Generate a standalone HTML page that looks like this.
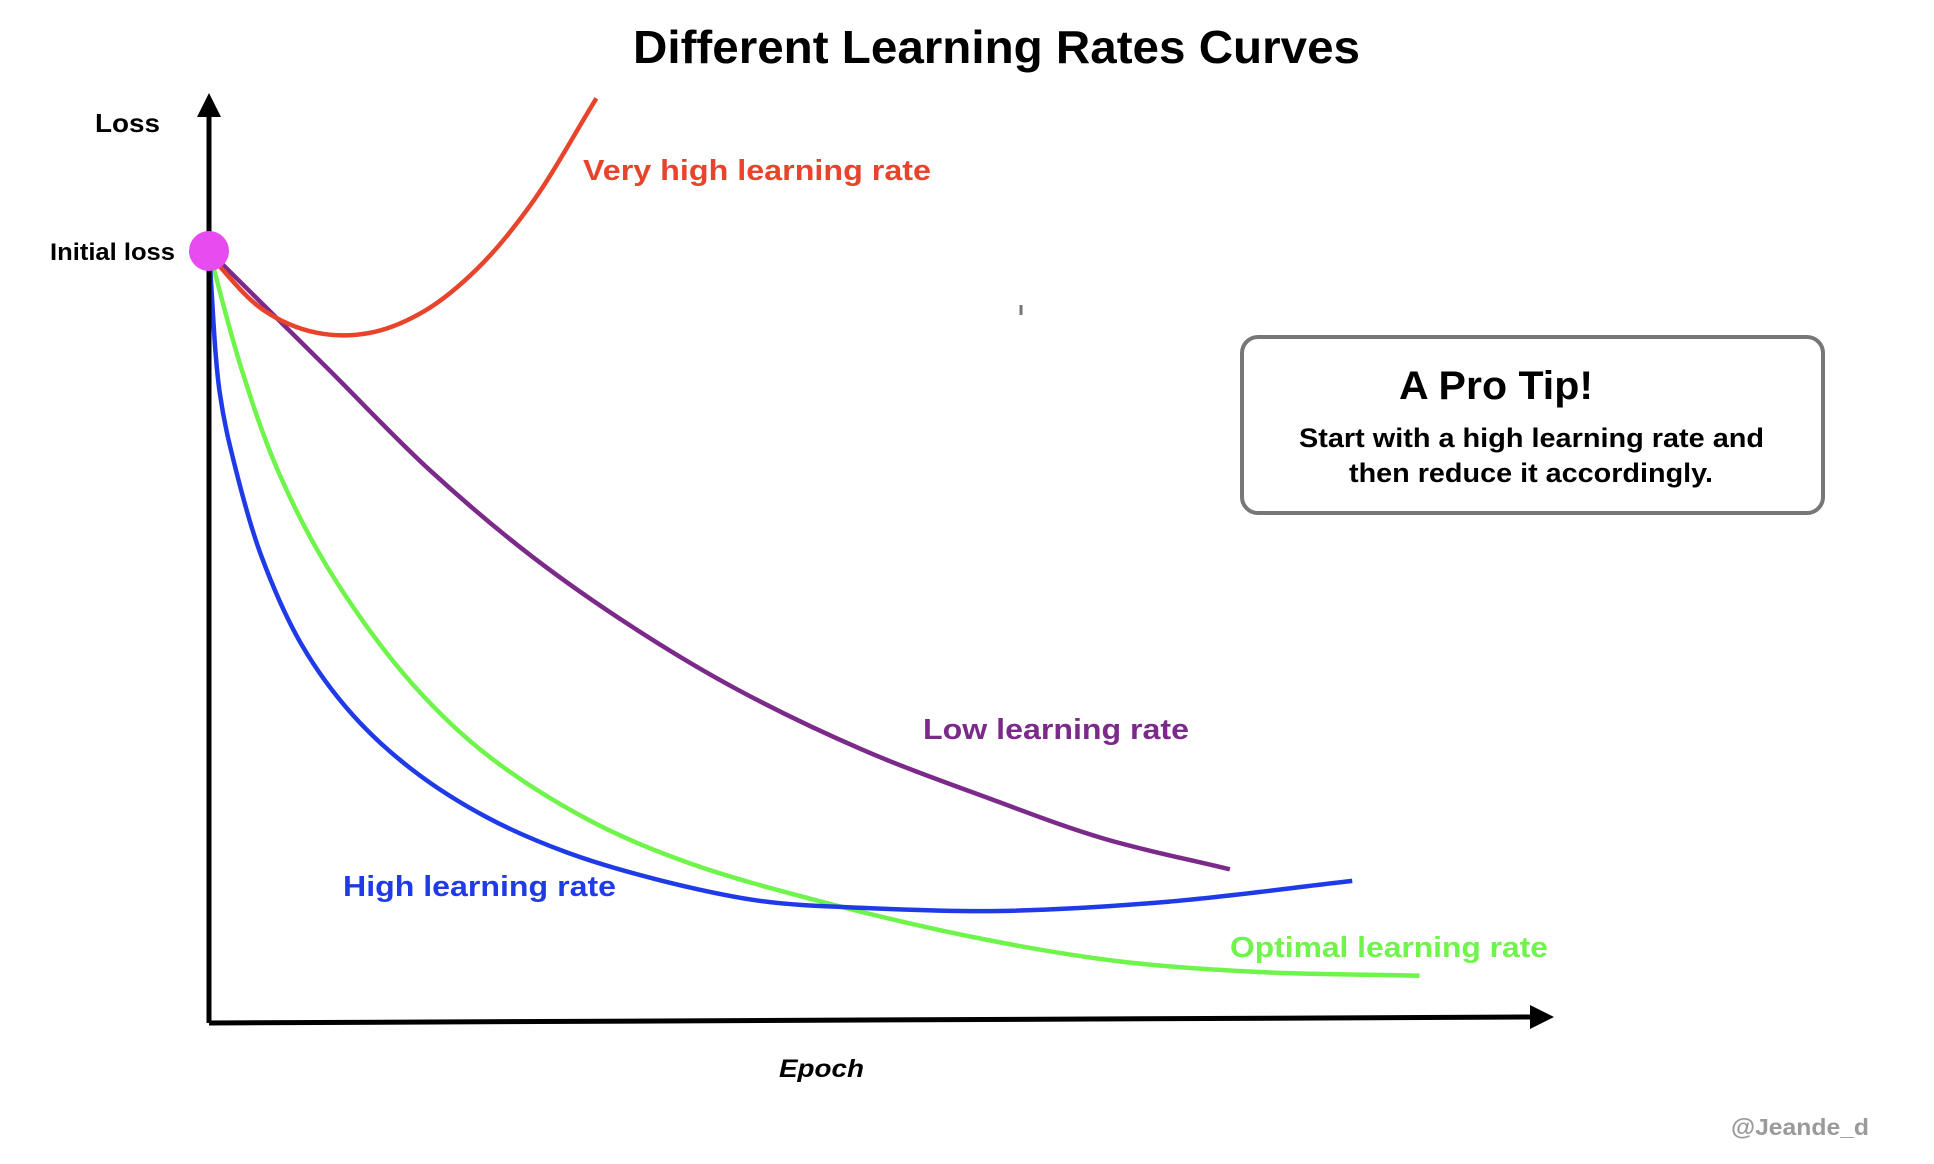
<!DOCTYPE html>
<html><head><meta charset="utf-8"><style>
html,body{margin:0;padding:0;background:#fff;}
svg{display:block;font-family:"Liberation Sans",Arial,sans-serif;font-weight:bold;}
</style></head><body>
<svg id="chart" width="1934" height="1164" viewBox="0 0 1934 1164" xmlns="http://www.w3.org/2000/svg">
<rect width="1934" height="1164" fill="#fff"/>
<text x="633" y="63" font-size="46" textLength="727" lengthAdjust="spacingAndGlyphs" fill="#000">Different Learning Rates Curves</text>
<g id="curves"></g>
<line x1="209" y1="1023" x2="209" y2="112" stroke="#000" stroke-width="5"/>
<polygon points="197,117 221,117 209,93" fill="#000"/>
<line x1="209" y1="1023" x2="1534" y2="1017" stroke="#000" stroke-width="5"/>
<polygon points="1530,1005 1530,1029 1554,1017" fill="#000"/>
<text x="95" y="132" font-size="26" textLength="65" lengthAdjust="spacingAndGlyphs" fill="#000">Loss</text>
<text x="50" y="260" font-size="24" textLength="125" lengthAdjust="spacingAndGlyphs" fill="#000">Initial loss</text>
<text x="779" y="1077" font-size="25" font-style="italic" textLength="85" lengthAdjust="spacingAndGlyphs" fill="#000">Epoch</text>
<circle cx="209" cy="251" r="20" fill="#e84cf0"/>
<line x1="1021" y1="305" x2="1021" y2="315" stroke="#777" stroke-width="3"/>
<text x="583" y="180" font-size="29" textLength="348" lengthAdjust="spacingAndGlyphs" fill="#e8442c">Very high learning rate</text>
<text x="923" y="739" font-size="29" textLength="266" lengthAdjust="spacingAndGlyphs" fill="#7b2a8a">Low learning rate</text>
<text x="343" y="896" font-size="29" textLength="273" lengthAdjust="spacingAndGlyphs" fill="#1f3be8">High learning rate</text>
<text x="1230" y="957" font-size="29" textLength="318" lengthAdjust="spacingAndGlyphs" fill="#6ef44a">Optimal learning rate</text>
<rect x="1242" y="337" width="581" height="176" rx="16" fill="#fff" stroke="#777" stroke-width="4"/>
<text x="1399" y="399" font-size="40" textLength="194" lengthAdjust="spacingAndGlyphs" fill="#000">A Pro Tip!</text>
<text x="1299" y="447" font-size="27" textLength="465" lengthAdjust="spacingAndGlyphs" fill="#000">Start with a high learning rate and</text>
<text x="1349" y="482" font-size="27" textLength="364" lengthAdjust="spacingAndGlyphs" fill="#000">then reduce it accordingly.</text>
<text x="1731" y="1135" font-size="23" textLength="138" lengthAdjust="spacingAndGlyphs" fill="#9a9a9a">@Jeande_d</text>
</svg>
<script>
const redEpochs = [0, 4, 8, 12, 16, 20, 24, 28.8];
const redLoss = [99.5, 92.4, 89.4, 89.4, 92.2, 97.8, 106.2, 119.8];
const purpleEpochs = [0, 8.8, 16.4, 24.0, 31.6, 39.2, 48.6, 58.0, 66.5, 75.9];
const purpleLoss = [100, 84.8, 71.6, 60.4, 51.1, 43.2, 35.3, 29.0, 23.8, 19.8];
const greenEpochs = [0, 2.4, 5.1, 8.8, 14.5, 20.2, 27.8, 35.4, 46.0, 58.0, 68.0, 77.9, 90.0];
const greenLoss = [100, 84.8, 71.6, 59.0, 45.1, 35.3, 26.6, 20.8, 15.4, 10.6, 7.8, 6.5, 6.0];
const blueEpochs = [0, 0.8, 2.0, 3.9, 6.9, 10.7, 15.2, 20.6, 26.6, 33.5, 41.0, 48.6, 58.8, 71.3, 85.0];
const blueLoss = [100, 81.6, 71.6, 60.4, 48.9, 39.8, 32.6, 26.6, 22.0, 18.4, 15.7, 14.8, 14.4, 15.6, 18.3];

function xScale(e){ return 209 + e * 13.45; }
function yScale(l){ return 1022 - l * 7.71; }
function smoothPath(pts){
  const dist = (a, b) => Math.pow(Math.hypot(b[0]-a[0], b[1]-a[1]), 0.5);
  let d = 'M' + pts[0][0].toFixed(2) + ',' + pts[0][1].toFixed(2);
  for (let i = 0; i < pts.length - 1; i++){
    const p0 = pts[i-1] || pts[i], p1 = pts[i], p2 = pts[i+1], p3 = pts[i+2] || pts[i+1];
    const d1 = dist(p0, p1), d2 = dist(p1, p2), d3 = dist(p2, p3);
    let b1, b2;
    if (d1 < 1e-6) b1 = [p1[0] + (p2[0]-p1[0])/3, p1[1] + (p2[1]-p1[1])/3];
    else b1 = [0,1].map(k => (d1*d1*p2[k] - d2*d2*p0[k] + (2*d1*d1 + 3*d1*d2 + d2*d2)*p1[k]) / (3*d1*(d1+d2)));
    if (d3 < 1e-6) b2 = [p2[0] - (p2[0]-p1[0])/3, p2[1] - (p2[1]-p1[1])/3];
    else b2 = [0,1].map(k => (d3*d3*p1[k] - d2*d2*p3[k] + (2*d3*d3 + 3*d3*d2 + d2*d2)*p2[k]) / (3*d3*(d3+d2)));
    d += ' C' + b1[0].toFixed(2) + ',' + b1[1].toFixed(2) + ' ' + b2[0].toFixed(2) + ',' + b2[1].toFixed(2) + ' ' + p2[0].toFixed(2) + ',' + p2[1].toFixed(2);
  }
  return d;
}
const g = document.getElementById('curves');
function draw(ex, ly, color, name){
  const pts = ex.map((e, i) => [xScale(e), yScale(ly[i])]);
  const p = document.createElementNS('http://www.w3.org/2000/svg', 'path');
  p.setAttribute('d', smoothPath(pts));
  p.setAttribute('fill', 'none');
  p.setAttribute('stroke', color);
  p.setAttribute('stroke-width', '4.5');
  p.setAttribute('stroke-linejoin', 'round');
  
  
  g.appendChild(p);
}
draw(purpleEpochs, purpleLoss, '#7b2a8a', 'low-lr-curve');
draw(greenEpochs, greenLoss, '#6ef44a', 'optimal-lr-curve');
draw(blueEpochs, blueLoss, '#1f3be8', 'high-lr-curve');
draw(redEpochs, redLoss, '#e8442c', 'very-high-lr-curve');
</script>
</body></html>
